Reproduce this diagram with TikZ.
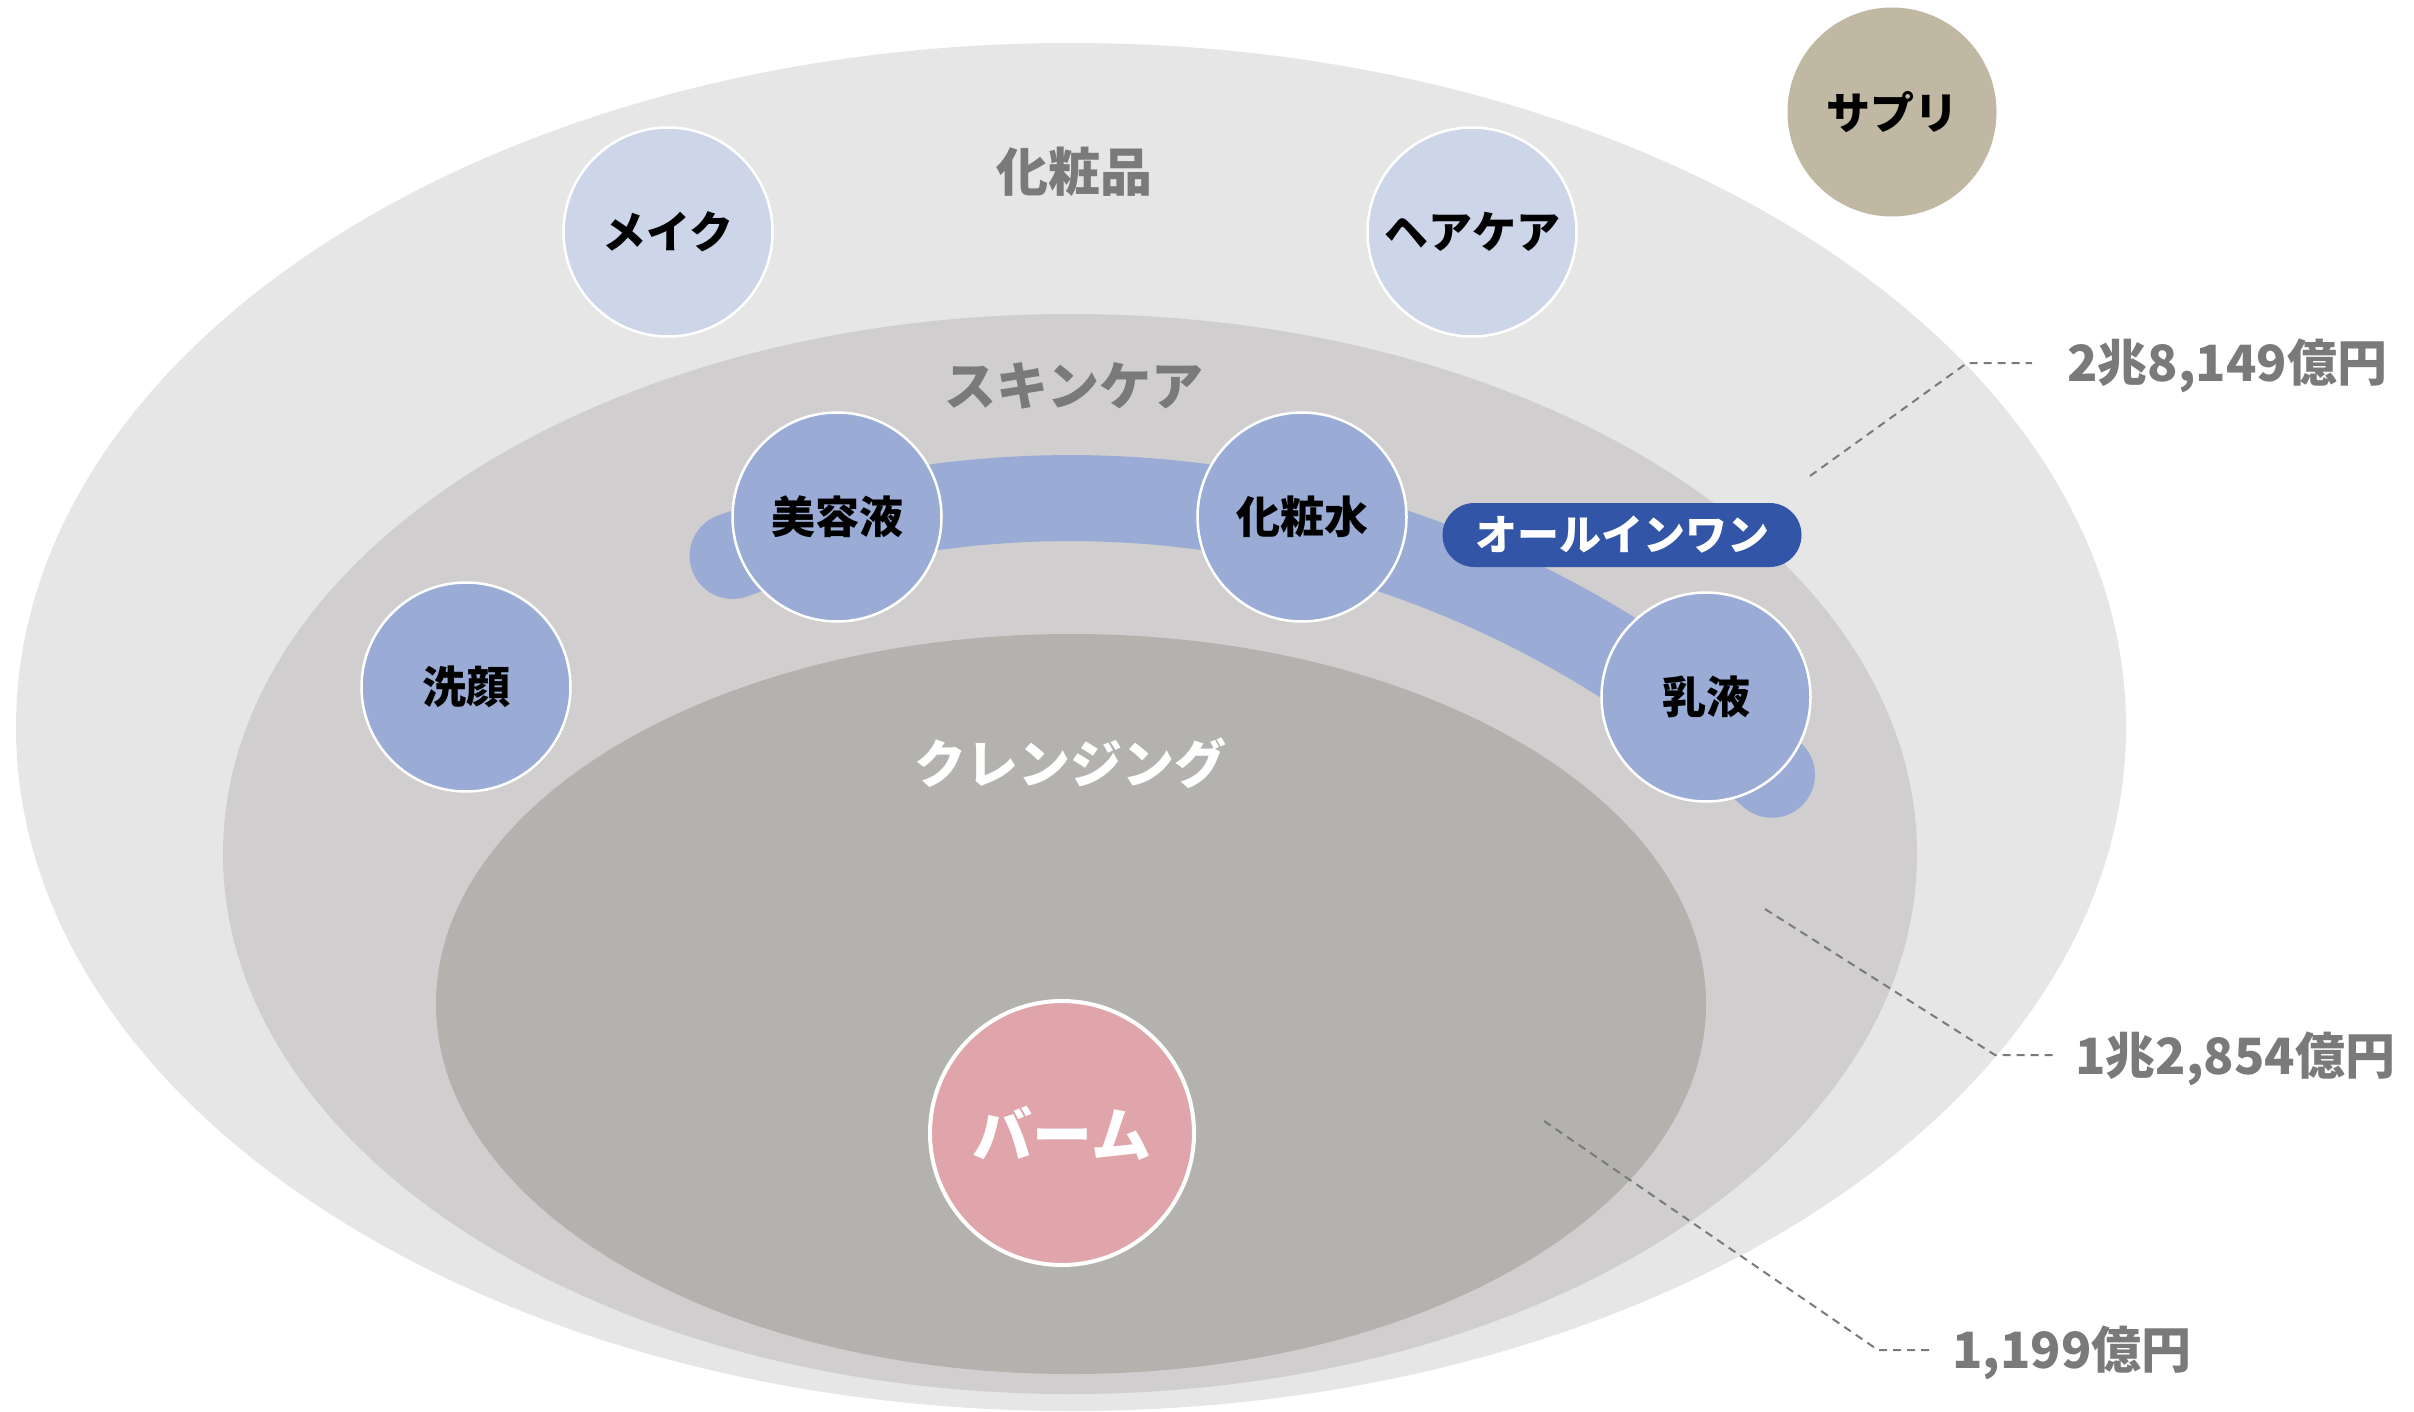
\documentclass[tikz,border=0pt]{standalone}
\usepackage{fontspec}
\setmainfont{Noto Sans CJK JP}
\definecolor{outerc}{HTML}{E6E6E6}
\definecolor{skinc}{HTML}{D0CECF}
\definecolor{cleanc}{HTML}{B3B2AE}
\definecolor{bluec}{HTML}{9AACD5}
\definecolor{lightc}{HTML}{CDD5E9}
\definecolor{suppc}{HTML}{C0B8A3}
\definecolor{balmc}{HTML}{E0A5AA}
\definecolor{pillc}{HTML}{3355A8}
\definecolor{grayt}{HTML}{7A7A7A}
\tikzset{
  bubble/.style={circle, draw=white, line width=2.5pt, minimum size=209pt, inner sep=0pt,
    font=\fontsize{44}{48}\selectfont\bfseries, text=black},
  areatitle/.style={font=\fontsize{52}{56}\selectfont\bfseries, text=grayt},
  valuelbl/.style={font=\fontsize{50}{54}\selectfont\bfseries, text=grayt, anchor=west, inner sep=0pt},
  leader/.style={draw=grayt, line width=2pt, dash pattern=on 8pt off 6pt},
  band/.style={draw=bluec, line width=86pt, line cap=round}
}
\begin{document}
\begin{tikzpicture}[x=1pt,y=-1pt]
\useasboundingbox (0,0) rectangle (2414,1411);
\fill[white] (0,0) rectangle (2414,1411);
% market areas
\fill[outerc] (1071,727) ellipse [x radius=1055pt, y radius=684pt];
\fill[skinc] (1070,854) ellipse [x radius=847pt, y radius=540pt];
\fill[cleanc] (1071,1004) ellipse [x radius=635pt, y radius=370pt];
% area titles
\node[areatitle] (tcos) at (1074,172) {化粧品};
\node[areatitle] (tskin) at (1074,386) {スキンケア};
\node[areatitle, text=white] (tclean) at (1070,763) {クレンジング};
% blue band
\draw[band] plot[smooth, domain=50:108, samples=60] ({1070+1092*cos(\x)},{1681-1183*sin(\x)});
% bubbles
\node[bubble, fill=lightc] (make) at (668,232) {メイク};
\node[bubble, fill=lightc] (hair) at (1472,232) {ヘアケア};
\node[bubble, fill=suppc, draw=none] (supp) at (1892,112) {サプリ};
\node[bubble, fill=bluec] (serum) at (837,517) {美容液};
\node[bubble, fill=bluec] (lotion) at (1302,517) {化粧水};
\node[bubble, fill=bluec] (milk) at (1706,697) {乳液};
\node[bubble, fill=bluec] (wash) at (466,687) {洗顔};
\node[bubble, fill=balmc, line width=4pt, minimum size=264pt, text=white,
  font=\fontsize{60}{64}\selectfont\bfseries] (balm) at (1062,1133) {バーム};
% all-in-one pill
\node[rounded corners=32pt, fill=pillc, minimum width=359pt, minimum height=64pt, inner sep=0pt,
  text=white, font=\fontsize{42}{46}\selectfont\bfseries] (aio) at (1622,535) {オールインワン};
% values
\node[valuelbl] (v1) at (2067,366) {2兆8,149億円};
\node[valuelbl] (v2) at (2075,1059) {1兆2,854億円};
\node[valuelbl] (v3) at (1952,1353) {1,199億円};
% leaders
\coordinate (a1) at (1810,476);
\coordinate (b1) at (1967,363);
\coordinate (c1) at (2032,363);
\coordinate (a2) at (1765,909);
\coordinate (b2) at (1995,1055);
\coordinate (c2) at (2054,1055);
\coordinate (a3) at (1544,1121);
\coordinate (b3) at (1878,1350);
\coordinate (c3) at (1932,1350);
\draw[leader] (a1) -- (b1) -- (c1);
\draw[leader] (a2) -- (b2) -- (c2);
\draw[leader] (a3) -- (b3) -- (c3);
\end{tikzpicture}
\end{document}
